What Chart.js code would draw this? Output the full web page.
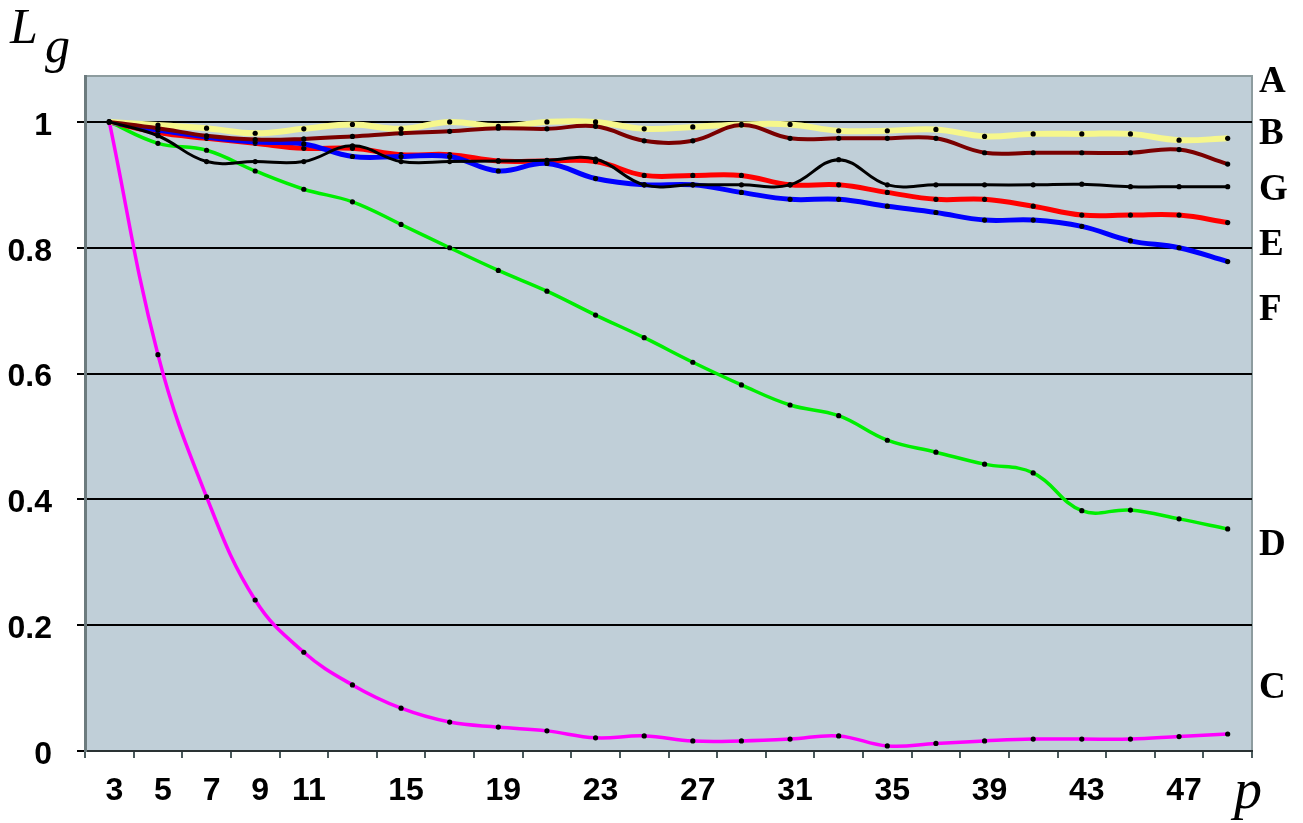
<!DOCTYPE html>
<html>
<head>
<meta charset="utf-8">
<title>Lg versus p</title>
<script src="https://cdn.jsdelivr.net/npm/chart.js@4.4.1/dist/chart.umd.min.js"></script>
<style>
  html, body { margin: 0; padding: 0; background: #ffffff; }
  #wrap { position: relative; width: 1303px; height: 823px; }
</style>
</head>
<body>
<div id="wrap"><canvas id="chart" width="1303" height="823"></canvas></div>
<script>
// Odd values of p along the horizontal axis
const categories = ['3','5','7','9','11','13','15','17','19','21','23','25',
                    '27','29','31','33','35','37','39','41','43','45','47','49'];
// Which of them carry a printed label
const labeledTicks = ['3','5','7','9','11','15','19','23','27','31','35','39','43','47'];
// Horizontal reference lines / labels on the Lg axis
const yTickValues = [0, 0.2, 0.4, 0.6, 0.8, 1];

// Lg values per series
const seriesA = [1.000,0.995,0.990,0.982,0.989,0.996,0.989,1.000,0.993,1.000,1.000,0.989,
                 0.992,0.996,0.996,0.986,0.986,0.988,0.977,0.981,0.981,0.981,0.971,0.974];
const seriesB = [1.000,0.990,0.978,0.972,0.973,0.977,0.982,0.985,0.990,0.989,0.993,0.970,
                 0.970,0.995,0.974,0.974,0.974,0.974,0.951,0.951,0.951,0.951,0.956,0.933];
const seriesG = [1.000,0.978,0.937,0.937,0.937,0.962,0.937,0.937,0.938,0.939,0.941,0.900,
                 0.900,0.900,0.900,0.940,0.900,0.900,0.900,0.900,0.901,0.897,0.897,0.897];
const seriesE = [1.000,0.983,0.974,0.966,0.958,0.958,0.948,0.948,0.938,0.938,0.937,0.915,
                 0.915,0.915,0.900,0.900,0.888,0.877,0.877,0.866,0.852,0.852,0.852,0.840];
const seriesF = [1.000,0.987,0.976,0.968,0.965,0.945,0.945,0.945,0.922,0.934,0.910,0.900,
                 0.900,0.888,0.877,0.877,0.866,0.856,0.844,0.844,0.834,0.811,0.800,0.778];
const seriesD = [1.000,0.966,0.955,0.922,0.893,0.873,0.837,0.800,0.764,0.731,0.693,0.657,
                 0.618,0.582,0.550,0.533,0.494,0.475,0.456,0.442,0.382,0.383,0.369,0.353];
const seriesC = [1.000,0.630,0.404,0.240,0.157,0.105,0.068,0.046,0.038,0.032,0.021,0.024,
                 0.016,0.016,0.019,0.024,0.008,0.012,0.016,0.019,0.019,0.019,0.023,0.027];

const serifFont = '"Liberation Serif", "Times New Roman", serif';
const sansFont = '"Liberation Sans", Arial, sans-serif';

function line(label, data, color, width) {
  return {
    label, data,
    borderColor: color,
    borderWidth: width,
    tension: 0.4,
    fill: false,
    pointRadius: 2.6,
    pointBackgroundColor: '#000000',
    pointBorderWidth: 0,
    pointHoverRadius: 2.6
  };
}

// Plot-area panel and frame
const panelPlugin = {
  id: 'panel',
  beforeDraw(chart) {
    const { ctx, chartArea: a } = chart;
    ctx.save();
    ctx.fillStyle = '#c0cfd8';
    ctx.fillRect(a.left, a.top, a.right - a.left, a.bottom - a.top);
    ctx.strokeStyle = '#8d9c9f';
    ctx.lineWidth = 2;
    ctx.strokeRect(a.left, a.top, a.right - a.left, a.bottom - a.top);
    ctx.restore();
  }
};

// Axis symbols and series letters
const annotatePlugin = {
  id: 'annotate',
  afterDraw(chart) {
    const { ctx } = chart;
    ctx.save();
    ctx.fillStyle = '#000000';
    ctx.textBaseline = 'alphabetic';
    ctx.textAlign = 'left';
    ctx.font = 'italic 50px ' + serifFont;
    ctx.fillText('L', 10, 43);
    ctx.fillText('g', 45, 62);
    ctx.font = 'italic 56px ' + serifFont;
    ctx.fillText('p', 1234, 808);
    ctx.font = 'bold 37px ' + serifFont;
    const tags = [['A', 92], ['B', 144], ['G', 200], ['E', 255], ['F', 320], ['D', 555], ['C', 698]];
    tags.forEach(([t, y]) => ctx.fillText(t, 1259, y));
    ctx.restore();
  }
};

new Chart(document.getElementById('chart'), {
  type: 'line',
  data: {
    labels: categories,
    datasets: [
      line('G', seriesG, '#000000', 3),
      line('B', seriesB, '#7a0000', 4),
      line('A', seriesA, '#f6f78c', 6),
      line('F', seriesF, '#0000ff', 5),
      line('E', seriesE, '#ff0000', 5),
      line('D', seriesD, '#00ee00', 3.5),
      line('C', seriesC, '#ff00ff', 3.5)
    ]
  },
  options: {
    responsive: false,
    animation: false,
    events: [],
    layout: { padding: { top: 76, right: 51, left: 0, bottom: 0 } },
    plugins: { legend: { display: false }, tooltip: { enabled: false } },
    scales: {
      x: {
        type: 'category',
        offset: true,
        afterFit(s) { s.height = 72; },
        grid: { offset: true, drawOnChartArea: false, drawTicks: true, tickLength: 7, color: '#4a5a5c', lineWidth: 2 },
        border: { display: true, color: '#2a3234', width: 2 },
        ticks: {
          autoSkip: false, maxRotation: 0, minRotation: 0,
          padding: 14, labelOffset: 5,
          color: '#000000',
          font: { family: sansFont, weight: 'bold', size: 32 },
          callback(v, i) { const l = categories[i]; return labeledTicks.includes(l) ? l : ''; }
        }
      },
      y: {
        min: 0, max: 1.073,
        afterFit(s) { s.width = 85; },
        afterBuildTicks(s) { s.ticks = yTickValues.map(value => ({ value })); },
        grid: { color: '#000000', lineWidth: 2, tickLength: 8, drawTicks: true },
        border: { display: true, color: '#6c7b7e', width: 3 },
        ticks: {
          padding: 25, labelOffset: 4,
          color: '#000000',
          font: { family: sansFont, weight: 'bold', size: 32 },
          callback(v) { return v === 0 ? '0' : v === 1 ? '1' : v.toFixed(1); }
        }
      }
    }
  },
  plugins: [panelPlugin, annotatePlugin]
});
</script>
</body>
</html>
